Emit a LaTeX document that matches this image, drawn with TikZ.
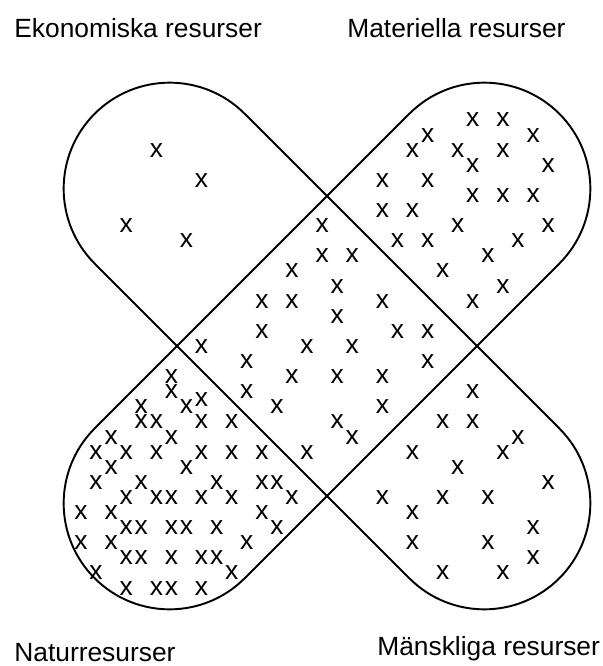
\documentclass[tikz,border=0pt]{standalone}
\usepackage{fontspec}
\setmainfont{Liberation Sans}

\begin{document}
\begin{tikzpicture}[x=0.02cm, y=-0.02cm,
        band/.style={draw, line width=1.1pt, rounded corners=2.12cm},
        kryss/.style={inner sep=0pt, font=\fontsize{15}{18}\selectfont},
        rubrik/.style={anchor=base west, inner sep=0pt, font=\fontsize{15}{18}\selectfont}
    ]
    \useasboundingbox (0,0) rectangle (602,666);

    % two crossing bands
    \draw[band, shift={(327,346)}, rotate=45] (-328.5,-106) rectangle (328.5,106);
    \draw[band, shift={(327,346)}, rotate=-45] (-328.5,-106) rectangle (328.5,106);

    \node[rubrik] (ekon) at (14,37) {Ekonomiska resurser};
    \node[rubrik] (mat) at (347,37) {Materiella resurser};
    \node[rubrik] (natur) at (14,661) {Naturresurser};
    \node[rubrik] (mansk) at (377,655.5) {Mänskliga resurser};

    % crosses on a grid: column/row
    \foreach \c/\r [count=\i] in {
        5/2, 8/4, 3/7, 7/8,
        16/7, 16/9, 18/9, 14/10, 17/11, 12/12, 14/12, 20/12, 17/13, 12/14, 21/14, 23/14,
        8/15, 15/15, 18/15, 11/16, 23/16, 14/17, 17/17, 20/17, 11/18, 13/19, 20/19,
        17/20, 18/21, 15/22,
        26/0, 28/0, 23/1, 30/1, 22/2, 25/2, 28/2, 26/3, 31/3, 20/4, 23/4, 26/5, 28/5, 30/5,
        20/6, 22/6, 25/7, 31/7, 21/8, 23/8, 29/8, 27/9, 24/10, 28/11, 26/12,
        26/18, 24/20, 26/20, 29/21, 28/22, 22/22, 25/23, 31/24, 20/25, 24/25, 27/25,
        22/26, 30/27, 22/28, 27/28, 30/29, 24/30, 28/30,
        6/17, 6/18, 4/19, 7/19, 8/18.5, 4/20, 5/20, 8/20, 10/20, 2/21, 6/21,
        1/22, 3/22, 5/22, 8/22, 10/22, 12/22, 2/23, 7/23, 1/24, 4/24, 9/24, 12/24, 13/24,
        3/25, 5/25, 6/25, 8/25, 10/25, 14/25, 0/26, 2/26, 12/26,
        3/27, 4/27, 6/27, 7/27, 9/27, 13/27, 0/28, 2/28, 11/28,
        3/29, 4/29, 6/29, 8/29, 9/29, 1/30, 10/30, 3/31, 5/31, 6/31, 8/31}
        \node[kryss] (x\i) at ({81+15.07*\c},{120+15.1*\r}) {x};
\end{tikzpicture}
\end{document}
